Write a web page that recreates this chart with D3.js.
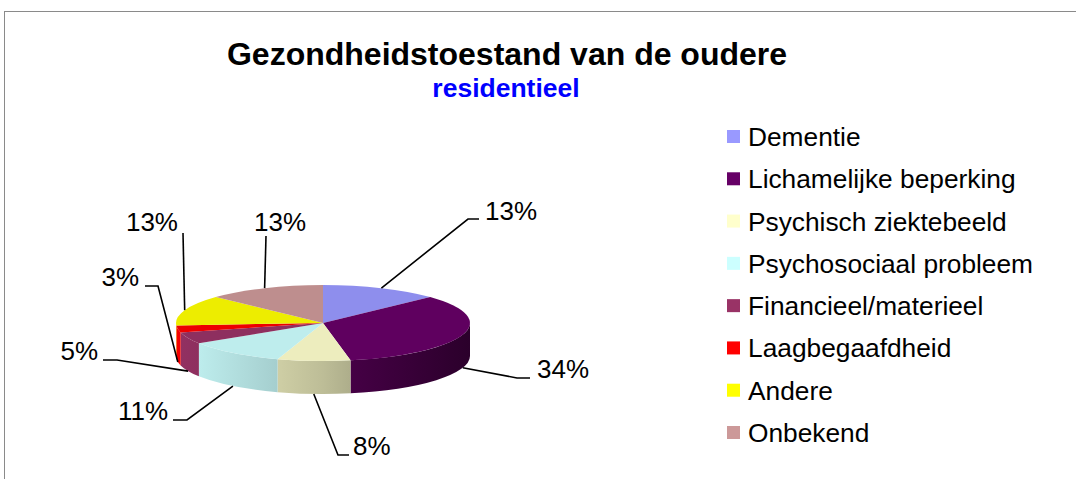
<!DOCTYPE html>
<html>
<head>
<meta charset="utf-8">
<script src="https://cdn.jsdelivr.net/npm/d3@7/dist/d3.min.js"></script>
<style>
  html, body { margin: 0; padding: 0; background: #fff; }
  svg { display: block; font-family: "Liberation Sans", Arial, Helvetica, sans-serif; }
</style>
</head>
<body>
<svg id="chart" width="1076" height="479"></svg>
<script>
// Categories and shares (percent) of the residential group
const categories = [
  "Dementie",
  "Lichamelijke beperking",
  "Psychisch ziektebeeld",
  "Psychosociaal probleem",
  "Financieel/materieel",
  "Laagbegaafdheid",
  "Andere",
  "Onbekend"
];
const shares = [13, 34, 8, 11, 5, 3, 13, 13];
const sliceColors = ["#9999FF", "#660066", "#FFFFCC", "#CCFFFF", "#993366", "#FF0000", "#FFFF00", "#CC9999"];

const titleText = "Gezondheidstoestand van de oudere";
const subtitleText = "residentieel";

// Label placement: text position, alignment and the leader-line bend points
const labelLayout = [
  { x: 485, y: 220, anchor: "start",  bends: [[468, 219], [479, 219]] },
  { x: 537, y: 378, anchor: "start",  bends: [[517, 378], [530, 378]] },
  { x: 353, y: 455, anchor: "start",  bends: [[338, 455], [349, 455]] },
  { x: 168, y: 420, anchor: "end",    bends: [[187, 420], [173, 420]] },
  { x: 98,  y: 360, anchor: "end",    bends: [[117, 360], [103, 360]] },
  { x: 139, y: 286, anchor: "end",    bends: [[158, 286], [145, 286]] },
  { x: 178, y: 231, anchor: "end",    bends: [[183, 233]] },
  { x: 280, y: 231, anchor: "middle", bends: [[266, 236]] }
];

const svg = d3.select("#chart");

// Chart frame
svg.append("rect")
  .attr("x", 4.5).attr("y", 11.5)
  .attr("width", 1100).attr("height", 500)
  .attr("fill", "none").attr("stroke", "#8a8a8a").attr("stroke-width", 1);

// Titles
svg.append("text")
  .attr("x", 507).attr("y", 65)
  .attr("text-anchor", "middle")
  .attr("font-size", 32).attr("font-weight", "bold").attr("fill", "#000")
  .text(titleText);
svg.append("text")
  .attr("x", 506).attr("y", 97)
  .attr("text-anchor", "middle")
  .attr("font-size", 26.5).attr("font-weight", "bold").attr("fill", "#0000FF")
  .text(subtitleText);

// 3D pie geometry
const cx = 323, cy = 323, rx = 147, ry = 38, depth = 33;
const pt = (a, dy = 0) => [cx + rx * Math.sin(a), cy - ry * Math.cos(a) + dy];

const data = categories.map((c, i) => ({ name: c, value: shares[i], color: sliceColors[i] }));
const pie = d3.pie().sort(null).value(d => d.value).startAngle(0).endAngle(2 * Math.PI);
const arcs = pie(data);

const defs = svg.append("defs");
const shade = (c, k) => {
  const r = d3.rgb(c);
  return d3.rgb(r.r * k, r.g * k, r.b * k).formatHex();
};

// Side-wall gradients: lit from the left, darker toward the right
arcs.forEach((a, i) => {
  const g = defs.append("linearGradient")
    .attr("id", "wall" + i)
    .attr("gradientUnits", "userSpaceOnUse")
    .attr("x1", cx - rx).attr("x2", cx + rx).attr("y1", 0).attr("y2", 0);
  g.append("stop").attr("offset", 0).attr("stop-color", shade(a.data.color, 0.96));
  g.append("stop").attr("offset", 0.5).attr("stop-color", shade(a.data.color, 0.74));
  g.append("stop").attr("offset", 1).attr("stop-color", shade(a.data.color, 0.42));
});

const pieG = svg.append("g");

// Walls: only the front half (angles between 90° and 270°) is visible
const front0 = Math.PI / 2, front1 = 3 * Math.PI / 2;
arcs.forEach((a, i) => {
  const s = Math.max(a.startAngle, front0), e = Math.min(a.endAngle, front1);
  if (e <= s) return;
  const p0 = pt(s), p1 = pt(e), q1 = pt(e, depth), q0 = pt(s, depth);
  const large = (e - s) > Math.PI ? 1 : 0;
  const dStr = `M${p0[0]},${p0[1]} A${rx},${ry} 0 ${large} 1 ${p1[0]},${p1[1]} ` +
               `L${q1[0]},${q1[1]} A${rx},${ry} 0 ${large} 0 ${q0[0]},${q0[1]} Z`;
  pieG.append("path").attr("d", dStr).attr("fill", `url(#wall${i})`);
});

// Top faces
arcs.forEach(a => {
  const p0 = pt(a.startAngle), p1 = pt(a.endAngle);
  const large = (a.endAngle - a.startAngle) > Math.PI ? 1 : 0;
  const dStr = `M${cx},${cy} L${p0[0]},${p0[1]} A${rx},${ry} 0 ${large} 1 ${p1[0]},${p1[1]} Z`;
  pieG.append("path").attr("d", dStr).attr("fill", shade(a.data.color, 0.93));
});

// Percentage labels with leader lines
const labelG = svg.append("g");
arcs.forEach((a, i) => {
  const mid = (a.startAngle + a.endAngle) / 2;
  const onFront = Math.cos(mid) < 0;
  const start = pt(mid, onFront ? depth : 0);
  const L = labelLayout[i];
  const pts = [start, ...L.bends];
  labelG.append("path")
    .attr("d", d3.line()(pts))
    .attr("fill", "none").attr("stroke", "#000").attr("stroke-width", 1.6);
  labelG.append("text")
    .attr("x", L.x).attr("y", L.y)
    .attr("text-anchor", L.anchor)
    .attr("font-size", 26).attr("fill", "#000")
    .text(Math.round(a.value) + "%");
});

// Legend
const legend = svg.append("g").attr("transform", "translate(727,0)");
const rowY = d3.scalePoint().domain(categories).range([146, 442]);
categories.forEach((c, i) => {
  const y = rowY(c);
  legend.append("rect")
    .attr("x", 0).attr("y", y - 16).attr("width", 13).attr("height", 13)
    .attr("fill", sliceColors[i]);
  legend.append("text")
    .attr("x", 21).attr("y", y)
    .attr("font-size", 26.3).attr("fill", "#000")
    .text(c);
});
</script>
</body>
</html>
